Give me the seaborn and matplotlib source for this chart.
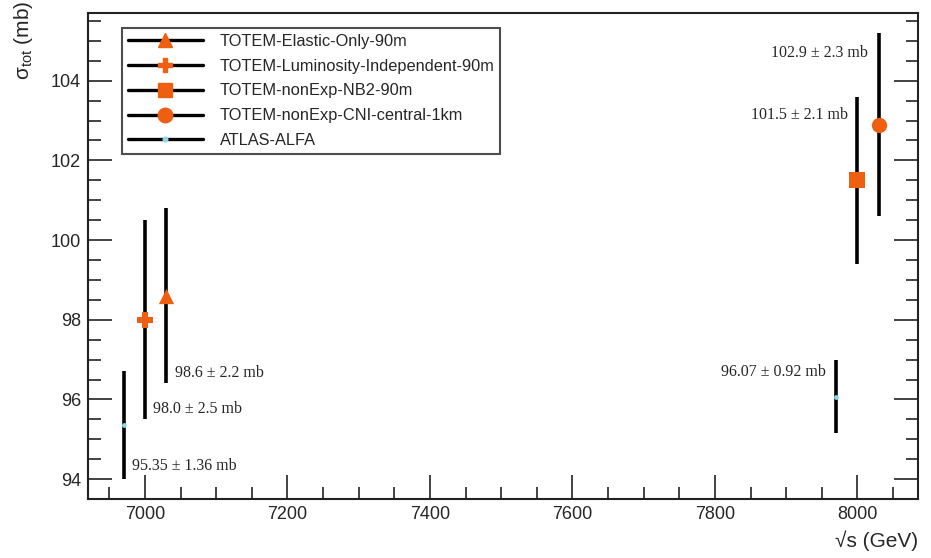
import pandas as pd
import matplotlib.pyplot as plt
import seaborn as sns
from matplotlib.lines import Line2D
from matplotlib.ticker import MultipleLocator

# Data: total cross sections at 7 and 8 TeV
labels = ['TOTEM-Elastic-Only-90m', 'TOTEM-Luminosity-Independent-90m',
          'TOTEM-nonExp-NB2-90m', 'TOTEM-nonExp-CNI-central-1km',
          'ATLAS-ALFA', 'ATLAS-ALFA']
sqrt_s = [7030, 7000, 8000, 8030, 6970, 7970]
sigma = [98.6, 98.0, 101.5, 102.9, 95.35, 96.07]
err = [2.2, 2.5, 2.1, 2.3, 1.36, 0.92]
markers = ['^', 'P', 's', 'o', 'o', 'o']
texts = ['98.6 ± 2.2 mb', '98.0 ± 2.5 mb', '101.5 ± 2.1 mb',
         '102.9 ± 2.3 mb', '95.35 ± 1.36 mb', '96.07 ± 0.92 mb']
text_x = [7042, 7011, 7987, 8015, 6982, 7956]
text_y = [96.66, 95.76, 103.15, 104.70, 94.33, 96.69]
text_ha = ['left', 'left', 'right', 'right', 'left', 'right']

df = pd.DataFrame({'label': labels, 'sqrt_s': sqrt_s, 'sigma': sigma, 'err': err})

orange = '#ee5f12'
lightblue = '#8fd6e6'
sizes = [11, 11, 11, 11, 3.5, 3.5]
colors = [orange] * 4 + [lightblue] * 2

sns.set_style('ticks')
plt.rcParams['font.family'] = ['Liberation Sans', 'DejaVu Sans']

fig = plt.figure(figsize=(9.31, 5.58), dpi=100)
ax = fig.add_axes([0.0945, 0.1057, 0.8915, 0.871])

ax.errorbar(df['sqrt_s'], df['sigma'], yerr=df['err'], fmt='none',
            ecolor='black', elinewidth=2.6, capsize=0, zorder=2)

for i, row in df.iterrows():
    sns.scatterplot(x=[row['sqrt_s']], y=[row['sigma']], ax=ax, marker=markers[i],
                    color=colors[i], s=sizes[i] ** 2, edgecolor=colors[i],
                    linewidth=0, zorder=3, legend=False)

for i in range(len(texts)):
    ax.text(text_x[i], text_y[i], texts[i], ha=text_ha[i], va='center',
            fontsize=11.5, family=['Liberation Serif', 'DejaVu Serif'])

ax.set_xlim(6920, 8085)
ax.set_ylim(93.5, 105.7)
ax.xaxis.set_major_locator(MultipleLocator(200))
ax.xaxis.set_minor_locator(MultipleLocator(50))
ax.yaxis.set_major_locator(MultipleLocator(2))
ax.yaxis.set_minor_locator(MultipleLocator(0.5))
ax.tick_params(axis='both', which='both', direction='in', right=True, top=False,
               labelsize=13, width=1.2, color='#222222', pad=5)
ax.tick_params(axis='both', which='major', length=17)
ax.tick_params(axis='both', which='minor', length=9)
for sp in ax.spines.values():
    sp.set_linewidth(1.5)
    sp.set_color('#222222')

ax.set_xlabel('√s (GeV)', fontsize=15, ha='right')
ax.set_ylabel('σ$_{\\mathregular{tot}}$ (mb)', fontsize=15, ha='right')
ax.xaxis.set_label_coords(1.0, -0.065)
ax.yaxis.set_label_coords(-0.064, 1.025)

handles = []
for i in range(5):
    handles.append(Line2D([0], [0], color='black', lw=2.4, marker=markers[i],
                          markerfacecolor=colors[i], markeredgecolor=colors[i],
                          markersize=sizes[i] * 0.95))
leg = ax.legend(handles, labels[:5], loc='upper left', bbox_to_anchor=(0.041, 0.969),
                fontsize=11.8, frameon=True, fancybox=False, edgecolor='#222222',
                handlelength=4.6, labelspacing=0.6, borderpad=0.35,
                handletextpad=1.0, borderaxespad=0)
leg.get_frame().set_linewidth(1.5)

plt.savefig('out.png', dpi=100)
